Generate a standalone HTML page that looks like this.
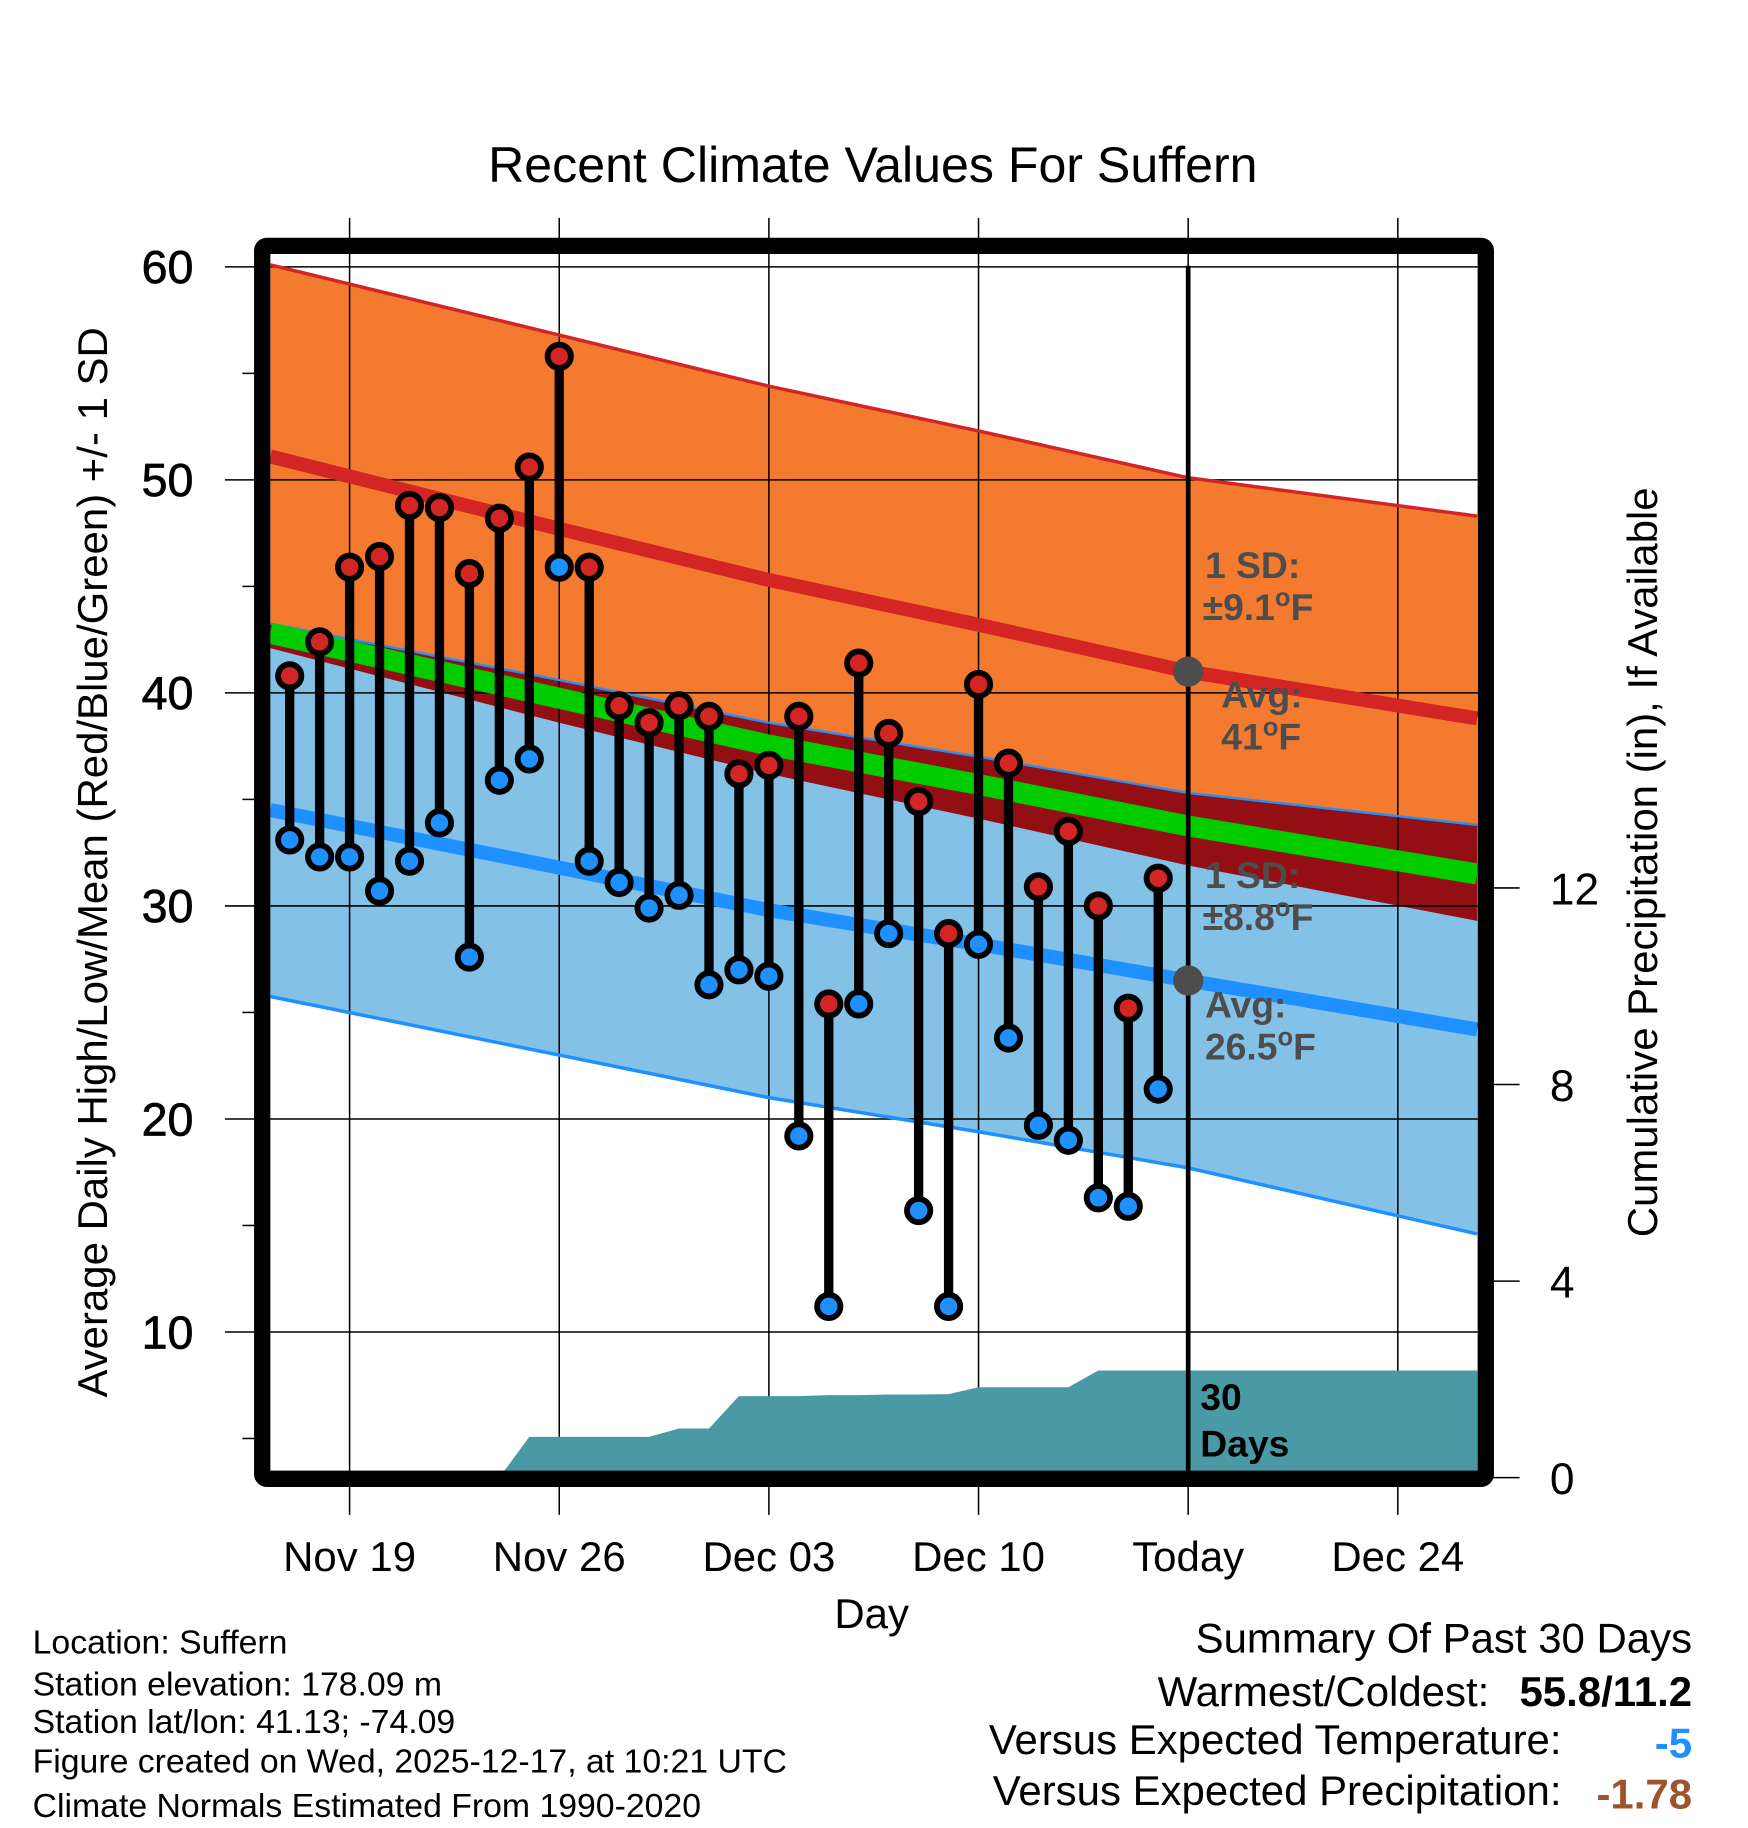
<!DOCTYPE html>
<html><head><meta charset="utf-8"><style>
html,body{margin:0;padding:0;background:#fff;}
svg{display:block;font-family:"Liberation Sans",sans-serif;}
</style></head><body>
<svg id="chart" width="1748" height="1828" viewBox="0 0 1500 1568.65" xmlns="http://www.w3.org/2000/svg">
<g id="bands"></g>
<g id="grid"></g>
<g id="precip"></g>
<g id="normlines"></g>
<g id="annot" font-weight="bold" fill="#4d4d4d" font-size="32">
<text x="1034" y="496">1 SD:</text>
<text x="1032" y="532">±9.1<tspan font-size="22" dy="-12">o</tspan><tspan dy="12">F</tspan></text>
<text x="1048" y="607">Avg:</text>
<text x="1048" y="643">41<tspan font-size="22" dy="-12">o</tspan><tspan dy="12">F</tspan></text>
<text x="1034" y="762">1 SD:</text>
<text x="1032" y="798">±8.8<tspan font-size="22" dy="-12">o</tspan><tspan dy="12">F</tspan></text>
<text x="1034" y="873">Avg:</text>
<text x="1034" y="909">26.5<tspan font-size="22" dy="-12">o</tspan><tspan dy="12">F</tspan></text>
</g>
<g id="obs"></g>
<g id="frame"></g>
<g id="axes"></g>
<text x="749" y="156" text-anchor="middle" font-size="43">Recent Climate Values For Suffern</text>
<text transform="translate(92,740) rotate(-90)" text-anchor="middle" font-size="36">Average Daily High/Low/Mean (Red/Blue/Green) +/- 1 SD</text>
<text transform="translate(1422,740) rotate(-90)" text-anchor="middle" font-size="36">Cumulative Precipitation (in), If Available</text>
<text x="748" y="1397" text-anchor="middle" font-size="36">Day</text>
<g font-size="29">
<text x="28" y="1419">Location: Suffern</text>
<text x="28" y="1455">Station elevation: 178.09 m</text>
<text x="28" y="1487">Station lat/lon: 41.13; -74.09</text>
<text x="28" y="1521">Figure created on Wed, 2025-12-17, at 10:21 UTC</text>
<text x="28" y="1559">Climate Normals Estimated From 1990-2020</text>
</g>
<g font-size="36">
<text x="1452" y="1418" text-anchor="end">Summary Of Past 30 Days</text>
<text x="1278" y="1464" text-anchor="end">Warmest/Coldest:</text>
<text x="1452" y="1464" text-anchor="end" font-weight="bold">55.8/11.2</text>
<text x="1340" y="1505" text-anchor="end">Versus Expected Temperature:</text>
<text x="1452" y="1508" text-anchor="end" font-weight="bold" fill="#1e90ff">-5</text>
<text x="1340" y="1549" text-anchor="end">Versus Expected Precipitation:</text>
<text x="1452" y="1552" text-anchor="end" font-weight="bold" fill="#a0522d">-1.78</text>
</g>
</svg>
<script>
// Data (day index 0 = Nov 19)
const highs=[40.8,42.4,45.9,46.4,48.8,48.7,45.6,48.2,50.6,55.8,45.9,39.4,38.6,39.4,38.9,36.2,36.6,38.9,25.4,41.4,38.1,34.9,28.7,40.4,36.7,30.9,33.5,30.0,25.2,31.3];
const lows=[33.1,32.3,32.3,30.7,32.1,33.9,27.6,35.9,36.9,45.9,32.1,31.1,29.9,30.5,26.3,27.0,26.7,19.2,11.2,25.4,28.7,15.7,11.2,28.2,23.8,19.7,19.0,16.3,15.9,21.4];
const precip=[0,0,0,0,0,0,0,0,0.83,0.83,0.83,0.83,0.83,1.0,1.0,1.66,1.66,1.66,1.68,1.68,1.69,1.69,1.7,1.84,1.84,1.84,1.84,2.18,2.18,2.18];
const firstDay=-2;
const normDays=[-2.65,7,14,21,28,37.65];
const normHigh=[51.1,47.7,45.3,43.2,41.0,38.8];
const normLow=[34.5,31.8,29.8,28.2,26.5,24.2];
const highSDs=[9.0,9.1,9.1,9.1,9.1,9.5];
const lowSDs=[8.75,8.8,8.8,8.8,8.8,9.6];
const xTickDays=[0,7,14,21,28,35];
const xTickLabels=["Nov 19","Nov 26","Dec 03","Dec 10","Today","Dec 24"];
const yTicks=[10,20,30,40,50,60];
const pTicks=[0,4,8,12];

const NS="http://www.w3.org/2000/svg";
const X=d=>300+d*25.7;
const Y=t=>1325.8-t*18.28;
const P=p=>1268-p*42.17;
const L=232,R=1268,T=228,B=1262;
function mk(parent,tag,attrs){const e=document.createElementNS(NS,tag);for(const k in attrs)e.setAttribute(k,attrs[k]);document.getElementById(parent).appendChild(e);return e;}
function pts(days,vals,f){return days.map((d,i)=>X(d).toFixed(1)+","+f(vals[i]).toFixed(1));}
const hUp=normHigh.map((v,i)=>v+highSDs[i]),hDn=normHigh.map((v,i)=>v-highSDs[i]),lUp=normLow.map((v,i)=>v+lowSDs[i]),lDn=normLow.map((v,i)=>v-lowSDs[i]);
const mean=normHigh.map((v,i)=>(v+normLow[i])/2);
function band(up,dn){return pts(normDays,up,Y).concat(pts(normDays,dn,Y).reverse()).join(" ");}
let e;
e=mk("bands","polygon",{points:band(hUp,hDn),fill:"#f47a30"});


e=mk("bands","polygon",{points:band(lUp,lDn),fill:"#84c1e6"});


const oTop=lUp.map((v,i)=>Math.min(v,hUp[i])),oBot=hDn.map((v,i)=>Math.max(v,lDn[i]));
e=mk("bands","polygon",{points:band(oTop,oBot.map((v,i)=>Math.min(v,oTop[i]))),fill:"#930f14"});


// grid
yTicks.forEach(t=>{e=mk("grid","line",{x1:193,x2:R,y1:Y(t),y2:Y(t),stroke:"#000","stroke-width":1.3});

});
xTickDays.forEach(d=>{e=mk("grid","line",{x1:X(d),x2:X(d),y1:187,y2:1300,stroke:"#000","stroke-width":1.3});

});
// precip
const pp=[L+","+P(0)];
precip.forEach((v,i)=>pp.push(X(firstDay+i).toFixed(1)+","+P(v).toFixed(1)));
pp.push(R+","+P(precip[precip.length-1]).toFixed(1));pp.push(R+","+P(0));
e=mk("precip","polygon",{points:pp.join(" "),fill:"#4a9aa5"});


e=mk("precip","text",{x:1030,y:1210,"font-size":32,"font-weight":"bold",fill:"#000"});e.textContent="30";


e=mk("precip","text",{x:1030,y:1250,"font-size":32,"font-weight":"bold",fill:"#000"});e.textContent="Days";


// normal lines
function line(vals,col,w,name){e=mk("normlines","polyline",{points:pts(normDays,vals,Y).join(" "),fill:"none",stroke:col,"stroke-width":w});

}
line(hUp,"#d42525",3,"high-upper-sd-line");
line(lUp,"#1e90ff",2,"low-upper-sd-line");
line(lDn,"#1e90ff",3,"low-lower-sd-line");
line(normHigh,"#d42525",12,"avg-high-line");
line(normLow,"#1e90ff",12,"avg-low-line");
line(mean,"#00cc00",18,"mean-line");
// today line
e=mk("normlines","line",{x1:X(28),x2:X(28),y1:T,y2:B,stroke:"#000","stroke-width":4});


e=mk("normlines","circle",{cx:X(28),cy:Y(41),r:13,fill:"#4d4d4d"});


e=mk("normlines","circle",{cx:X(28),cy:Y(26.5),r:13,fill:"#4d4d4d"});


// observations
highs.forEach((h,i)=>{const x=X(firstDay+i);
e=mk("obs","line",{x1:x,x2:x,y1:Y(h),y2:Y(lows[i]),stroke:"#000","stroke-width":8});


e=mk("obs","circle",{cx:x,cy:Y(lows[i]),r:10,fill:"#1e90ff",stroke:"#000","stroke-width":5});


e=mk("obs","circle",{cx:x,cy:Y(h),r:10,fill:"#d42525",stroke:"#000","stroke-width":5});


});
// frame
e=mk("frame","rect",{x:225,y:211,width:1050,height:1058,fill:"none",stroke:"#000","stroke-width":14,rx:4});


// axes labels
yTicks.forEach(t=>{e=mk("axes","text",{x:166,y:Y(t)+14,"text-anchor":"end","font-size":40,stroke:"#000","stroke-width":0.6});e.textContent=t;

});
for(let t=5;t<60;t+=10){e=mk("axes","line",{x1:208,x2:218,y1:Y(t),y2:Y(t),stroke:"#000","stroke-width":1.3});

}
pTicks.forEach(p=>{e=mk("axes","line",{x1:1278,x2:1304,y1:P(p),y2:P(p),stroke:"#000","stroke-width":1.3});


e=mk("axes","text",{x:1330,y:P(p)+14,"font-size":38});e.textContent=p;

});
xTickDays.forEach((d,i)=>{e=mk("axes","text",{x:X(d),y:1348,"text-anchor":"middle","font-size":36});e.textContent=xTickLabels[i];

});
</script>
</body></html>
